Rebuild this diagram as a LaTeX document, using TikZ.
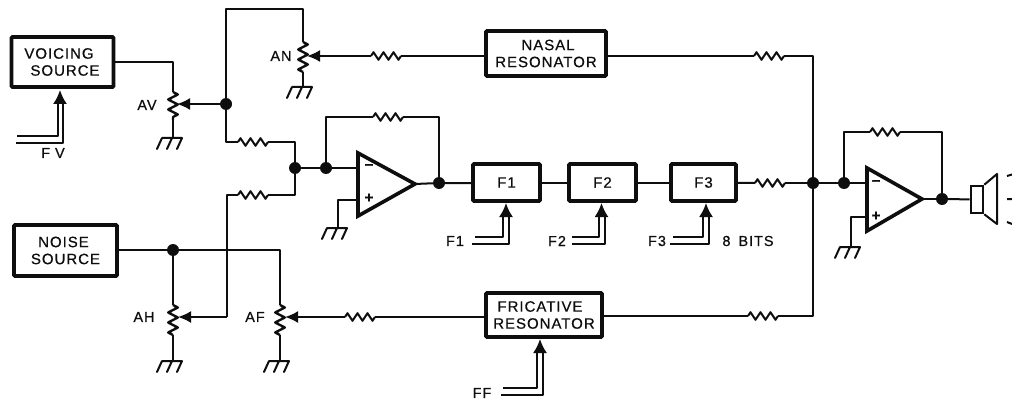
\documentclass[tikz,border=0pt]{standalone}
\usepackage{fontspec}
\setmainfont[LetterSpace=6.5,FakeBold=0.6]{Liberation Sans}
\usetikzlibrary{arrows.meta,decorations.pathmorphing,calc}
\definecolor{ink}{HTML}{0E0E0E}
\tikzset{
  wire/.style={draw=ink,line width=2pt,line join=round},
  thick box/.style={draw=ink,line width=3.6pt,rectangle,rounded corners=1pt,inner sep=0pt,align=center,text=ink,
     font=\fontsize{15}{17}\selectfont},
  label/.style={text=ink,inner sep=0pt,font=\fontsize{14.5}{17}\selectfont},
  sign/.style={text=ink,inner sep=0pt,font=\fontsize{15}{15}\bfseries\selectfont},
  dot/.style={circle,fill=ink,draw=none,minimum size=12pt,inner sep=0pt},
  resistor/.style={wire,decorate,decoration={zigzag,segment length=10pt,amplitude=3.8pt}},
  potzig/.style={wire,line width=2.4pt,decorate,decoration={zigzag,segment length=10pt,amplitude=4.8pt}},
  wiper/.style={wire,-{Latex[length=13pt,width=12pt]}},
  ctrl/.style={wire,-{Latex[length=14pt,width=14pt]}},
  amp/.style={draw=ink,line width=3.6pt,line join=miter},
  gnd/.pic={\draw[draw=ink,line width=2pt,line cap=round]
     (-11,0) -- (9,0) (-11,0) -- (-16,11) (-1,0) -- (-6,11) (9,0) -- (4,11);}
}
\begin{document}
\begin{tikzpicture}[x=1pt,y=-1pt]
\useasboundingbox[fill=white] (0,0) rectangle (1012,401);

% boxes
\node[thick box,minimum width=102pt,minimum height=50pt] (vs) at (62.5,62) {VOICING\hspace*{7pt}\\\hspace*{5pt}SOURCE};
\node[thick box,minimum width=103pt,minimum height=51pt] (ns) at (65.5,250.5) {NOISE\hspace*{4pt}\\SOURCE};
\node[thick box,minimum width=120pt,minimum height=45pt] (nr) at (546,53.5) {\hspace*{4pt}NASAL\\RESONATOR};
\node[thick box,minimum width=116pt,minimum height=44pt] (fr) at (544,315) {FRICATIVE\hspace*{8pt}\\RESONATOR};
\node[thick box,minimum width=67pt,minimum height=37pt] (f1) at (506.5,182.5) {F1};
\node[thick box,minimum width=67pt,minimum height=37pt] (f2) at (602.5,182.5) {F2};
\node[thick box,minimum width=65pt,minimum height=37pt] (f3) at (703.5,182.5) {F3};

% junctions
\node[dot] (jav) at (226,104) {};
\node[dot] (jsum) at (295,168) {};
\node[dot] (jin) at (326,168) {};
\node[dot] (jo1) at (439,183) {};
\node[dot] (jbus) at (813,183) {};
\node[dot] (jin2) at (844,183) {};
\node[dot] (jo2) at (942,199) {};
\node[dot] (jn) at (173,250) {};

% op amps
\coordinate (a1m) at (358,168); \coordinate (a1p) at (358,200); \coordinate (a1o) at (415,184);
\coordinate (a2m) at (867,183); \coordinate (a2p) at (867,217); \coordinate (a2o) at (922,199);
\draw[amp] (358,153) -- (a1o) -- (358,216) -- cycle;
\draw[amp] (867,168) -- (a2o) -- (867,231) -- cycle;
\node[sign] (a1minus) at (369,167) {\textminus};
\node[sign] (a1plus) at (369,198) {+};
\node[sign] (a2minus) at (876,183) {\textminus};
\node[sign] (a2plus) at (876,216) {+};

% pots: top, bottom, wiper point, ground
\foreach \n/\x/\t/\b/\g in {av/173/92/120/138, an/303/42/72/87, ah/173/305/335/361, af/280/305/335/361}{
  \coordinate (\n t) at (\x,\t);
  \coordinate (\n b) at (\x,\b);
  \coordinate (\n g) at (\x,\g);
  \draw[potzig] (\n t) -- (\n b);
  \draw[wire] (\n b) -- (\n g);
  \pic at (\n g) {gnd};
}
\coordinate (avw) at (177,104); \coordinate (anw) at (307,56);
\coordinate (ahw) at (178,317); \coordinate (afw) at (285,317);

% resistors
\foreach \n/\x/\y in {rn1/371/56, rn2/754/56, rav/238/142, rah/238/195, rf1/373/117, rf3/755/183, rf2/870/132, rfl/345/317, rfr/748/316}{
  \coordinate (\n a) at (\x,\y);
  \coordinate (\n b) at (\x+30,\y);
  \draw[resistor] (\n a) -- (\n b);
}

% wiring, voicing
\draw[wire] (vs.east |- 0,62) -- (173,62) -- (avt);
\draw[wiper] (jav) -- (avw);
\draw[wire] (jav) -- (226,9) -- (303,9) -- (ant);
\draw[wiper] (rn1a) -- (anw);
\draw[wire] (rn1b) -- (nr.west |- rn1b);
\draw[wire] (nr.east |- rn2a) -- (rn2a);
\draw[wire] (rn2b) -- (813,56) -- (jbus);
\draw[wire] (jav) |- (rava);
\draw[wire] (ravb) -- (295,142) -- (jsum);
% noise
\draw[wire] (ns.east |- jn) -- (jn) -- (280,250) -- (aft);
\draw[wire] (jn) -- (aht);
\draw[wiper] (227,317) -- (ahw);
\draw[wire] (227,317) -- (227,195) -- (raha);
\draw[wire] (rahb) -- (295,195) -- (jsum);
\draw[wiper] (rfla) -- (afw);
\draw[wire] (rflb) -- (fr.west |- rflb);
\draw[wire] (fr.east |- rfra) -- (rfra);
\draw[wire] (rfrb) -- (813,316) -- (jbus);
% first amp
\draw[wire] (jsum) -- (jin) -- (a1m);
\draw[wire] (jin) -- (326,117) -- (rf1a);
\draw[wire] (rf1b) -- (439,117) -- (jo1);
\draw[wire] (a1o) -- (jo1) -- (f1.west |- jo1);
\coordinate (g1) at (338,228);
\draw[wire] (a1p) -- (338,200) -- (g1);
\pic at (g1) {gnd};
% filters
\draw[wire] (f1) -- (f2);
\draw[wire] (f2) -- (f3);
\draw[wire] (f3) -- (rf3a);
\draw[wire] (rf3b) -- (jbus);
% second amp
\draw[wire] (jbus) -- (jin2) -- (a2m);
\draw[wire] (jin2) -- (844,132) -- (rf2a);
\draw[wire] (rf2b) -- (942,132) -- (jo2);
\coordinate (g2) at (851,247);
\draw[wire] (a2p) -- (851,217) -- (g2);
\pic at (g2) {gnd};
\draw[wire] (a2o) -- (jo2);

% speaker
\node[draw=ink,line width=2.6pt,rectangle,minimum width=12pt,minimum height=27pt,inner sep=0pt] (spk) at (977,199.5) {};
\draw[wire] (jo2) -- (spk);
\draw[draw=ink,line width=2pt,line join=round] (spk.north east) -- (997,174) -- (997,224) -- (spk.south east);
\draw[wire] (1007,176) -- (1012,174.5) (1007,199) -- (1012,199) (1007,222) -- (1012,224);

% double control lines
\newcommand{\ctrlpair}[8]{% head x, tip y, stem-left x, stem-right x, top line start, bottom line start, y upper, y lower
  \draw[wire] (#5,#7) -| (#3,#2+13);
  \draw[wire] (#6,#8) -| (#4,#2+13);
  \draw[ctrl] (#1,#2+14) -- (#1,#2);
}
\ctrlpair{60}{90}{57.5}{62.5}{17}{16}{136}{143}
\ctrlpair{506}{203}{503}{509}{475}{472}{237}{244}
\ctrlpair{601.5}{203}{598.5}{604.5}{572}{572}{237}{244}
\ctrlpair{706}{203}{703}{709}{673}{670}{237}{244}
\ctrlpair{540}{339}{537}{543}{503}{501}{388}{395}

% labels
\node[label] (lfv) at (53,153) {F V};
\node[label] (lav) at (147,105) {AV};
\node[label] (lan) at (281,56) {AN};
\node[label] (lah) at (144,317) {AH};
\node[label] (laf) at (255,317) {AF};
\node[label] (lf1) at (455,241) {F1};
\node[label] (lf2) at (557,241) {F2};
\node[label] (lf3) at (657,241) {F3};
\node[label] (lbits) at (748,241) {8\hspace{3pt} BITS};
\node[label] (lff) at (482,393) {FF};
\end{tikzpicture}
\end{document}
